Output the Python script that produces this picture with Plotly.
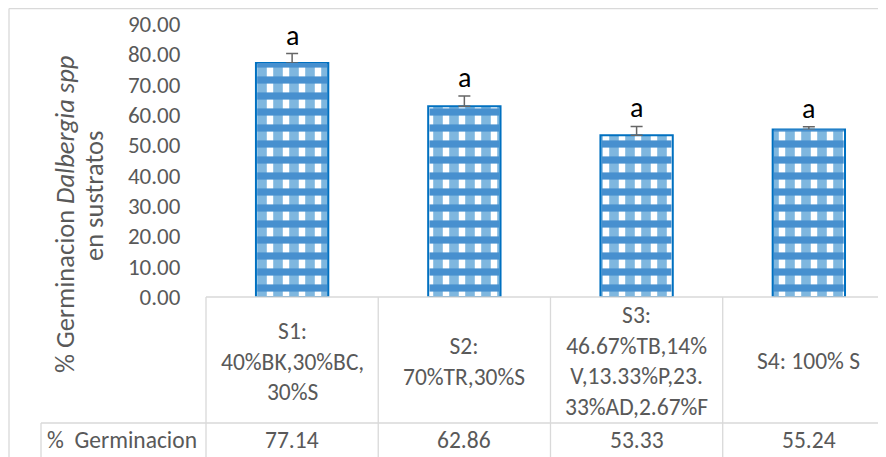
import plotly.graph_objects as go

# ---------------- data ----------------
categories = ["S1", "S2", "S3", "S4"]
category_labels = [
    "S1:<br>40%BK,30%BC,<br>30%S",
    "S2:<br>70%TR,30%S",
    "S3:<br>46.67%TB,14%<br>V,13.33%P,23.<br>33%AD,2.67%F",
    "S4: 100% S",
]
germinacion = [77.14, 62.86, 53.33, 55.24]
error_plus = [3.1, 3.4, 2.9, 0.9]
letters = ["a", "a", "a", "a"]
row_label = "%  Germinacion"
y_ticks = [0, 10, 20, 30, 40, 50, 60, 70, 80, 90]

# ---------------- layout geometry (page pixels) ----------------
OFF = 8                      # default body margin of the html page
PAGE_W, PAGE_H = 886, 457
W, H = PAGE_W - OFF, PAGE_H - OFF
PLOT_L, PLOT_T, PLOT_B = 206, 24, 297   # page pixel positions of plot area
L = PLOT_L - OFF
T = PLOT_T - OFF
B = H - (PLOT_B - OFF)
R = 0
PW, PH = W - L - R, H - T - B
XMIN, XMAX = -0.5, 3.448
FONT = "Carlito, Lato, sans-serif"
GRAY = "#595959"
GRID = "#D9D9D9"
BLUE = "#0070C0"


def px_x(px):
    return (px - PLOT_L) / PW


def px_y(py):
    return (PLOT_B - py) / PH


def data_x(xv):
    return (xv - XMIN) / (XMAX - XMIN)


xs = list(range(len(categories)))

fig = go.Figure()
# vertical stripes
fig.add_trace(go.Bar(
    x=xs, y=germinacion, width=0.42,
    marker=dict(color="white", line=dict(color=BLUE, width=2),
                pattern=dict(shape="|", size=16, solidity=0.6,
                             fgcolor=BLUE, bgcolor="white")),
    error_y=dict(type="data", array=error_plus, arrayminus=[0] * 4,
                 symmetric=False, color="#666666", thickness=1.5, width=6),
    hoverinfo="skip", showlegend=False,
))
# horizontal checker bands
fig.add_trace(go.Bar(
    x=xs, y=germinacion, width=0.405,
    marker=dict(color="rgba(0,0,0,0)", line=dict(width=0),
                pattern=dict(shape="-", size=16, solidity=0.45,
                             fgcolor="#4790CF", fillmode="replace")),
    hoverinfo="skip", showlegend=False,
))

annotations = []
# significance letters
for xi, v, e, t in zip(xs, germinacion, error_plus, letters):
    annotations.append(dict(x=xi, y=v + e, xref="x", yref="y", text=t,
                            showarrow=False, yanchor="bottom", yshift=-1,
                            font=dict(family=FONT, size=28, color="black")))
# table header labels
for xi, lab in zip(xs, category_labels):
    annotations.append(dict(x=xi, y=px_y(361), xref="x", yref="paper", text=lab,
                            showarrow=False, yanchor="middle", align="center",
                            font=dict(family=FONT, size=23.5, color=GRAY)))
# table values
for xi, v in zip(xs, germinacion):
    annotations.append(dict(x=xi, y=px_y(440), xref="x", yref="paper",
                            text=f"{v:.2f}", showarrow=False, yanchor="middle",
                            font=dict(family=FONT, size=23.5, color=GRAY)))
# row label
annotations.append(dict(x=px_x(45), y=px_y(440), xref="paper", yref="paper",
                        text=row_label, showarrow=False, xanchor="left",
                        yanchor="middle",
                        font=dict(family=FONT, size=23.5, color=GRAY)))
# y-axis title (two lines)
annotations.append(dict(x=px_x(65), y=px_y(215), xref="paper", yref="paper",
                        text="% Germinacion <i>Dalbergia spp</i>", textangle=-90,
                        showarrow=False, xanchor="center", yanchor="middle",
                        font=dict(family=FONT, size=26.5, color=GRAY)))
annotations.append(dict(x=px_x(94), y=px_y(196), xref="paper", yref="paper",
                        text="en sustratos", textangle=-90,
                        showarrow=False, xanchor="center", yanchor="middle",
                        font=dict(family=FONT, size=26.5, color=GRAY)))

shapes = []
line = dict(color=GRID, width=1.3)
y_bottom = px_y(PAGE_H + 5)
x_right = px_x(PAGE_W + 5)
# vertical cell borders
for xb in [-0.5, 0.5, 1.5, 2.5, 3.5]:
    shapes.append(dict(type="line", xref="paper", yref="paper",
                       x0=data_x(xb), x1=data_x(xb), y0=0, y1=y_bottom, line=line))
# row separator
shapes.append(dict(type="line", xref="paper", yref="paper",
                   x0=px_x(41), x1=x_right, y0=px_y(423), y1=px_y(423), line=line))
shapes.append(dict(type="line", xref="paper", yref="paper",
                   x0=px_x(41), x1=px_x(41), y0=px_y(423), y1=y_bottom, line=line))
# outer chart border
shapes.append(dict(type="line", xref="paper", yref="paper",
                   x0=px_x(9), x1=px_x(9), y0=px_y(8.5), y1=y_bottom, line=line))
shapes.append(dict(type="line", xref="paper", yref="paper",
                   x0=px_x(9), x1=x_right, y0=px_y(8.5), y1=px_y(8.5), line=line))
# x-axis line
shapes.append(dict(type="line", xref="paper", yref="paper",
                   x0=0, x1=x_right, y0=0, y1=0, line=line))

fig.update_layout(
    width=W, height=H,
    margin=dict(l=L, r=R, t=T, b=B, pad=0),
    paper_bgcolor="white", plot_bgcolor="white",
    barmode="overlay", showlegend=False,
    xaxis=dict(range=[XMIN, XMAX], showticklabels=False, showgrid=False,
               zeroline=False, showline=False, ticks=""),
    yaxis=dict(range=[0, 90], tickvals=y_ticks,
               ticktext=[f"{t:.2f}" for t in y_ticks],
               showgrid=False, zeroline=False, showline=False,
               ticks="outside", ticklen=20, tickcolor="rgba(0,0,0,0)",
               tickfont=dict(family=FONT, size=23, color=GRAY)),
    annotations=annotations, shapes=shapes,
)

fig.write_html("out.html")
